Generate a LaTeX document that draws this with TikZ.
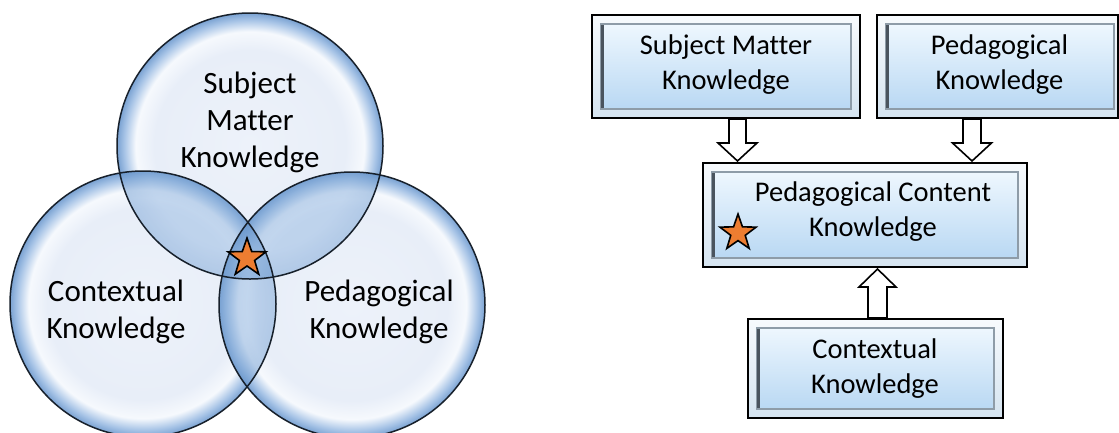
\documentclass[tikz,border=0pt]{standalone}
\usepackage{fontspec}
\setmainfont[Ligatures=NoCommon]{Carlito}
\usetikzlibrary{shapes.geometric,calc}
\definecolor{bin}{HTML}{EDF2FA}
\definecolor{bmid}{HTML}{E8EEF8}
\definecolor{bhigh}{HTML}{F6F9FD}
\definecolor{bedge}{HTML}{A6C3E6}
\definecolor{bdark}{HTML}{7AA2D2}
\definecolor{lin}{HTML}{9DBEE4}
\definecolor{lout}{HTML}{5F8FC8}
\definecolor{starorange}{HTML}{ED7D31}
\definecolor{innertop}{HTML}{EEF7FE}
\definecolor{innerbot}{HTML}{B9D8F3}
\definecolor{outertop}{HTML}{F7FAFD}
\definecolor{outerbot}{HTML}{D5E4F0}
\definecolor{bevel}{HTML}{8E9CA8}
\definecolor{beveldark}{HTML}{4A545E}
\definecolor{ringline}{HTML}{17202B}
\pgfdeclareradialshading{bubble}{\pgfpoint{0bp}{0bp}}{color(0bp)=(bin); color(18bp)=(bmid); color(21.5bp)=(bhigh); color(23.7bp)=(bedge); color(25bp)=(bdark); color(50bp)=(bdark)}
\pgfdeclareradialshading{lensshade}{\pgfpoint{0bp}{0bp}}{color(0bp)=(lin); color(20bp)=(lin); color(25bp)=(lout); color(50bp)=(lout)}
\tikzset{
  bubblecircle/.style={circle, minimum size=266, inner sep=0, shading=bubble},
  bubbleline/.style={draw=ringline, line width=1.5},
  lensfill/.style={shading=lensshade, fill opacity=0.33},
  bubbletext/.style={font=\fontsize{31}{37}\selectfont, align=center, text=black},
  starnode/.style={star, star points=5, star point ratio=2.5, minimum size=40, inner sep=0, fill=starorange, draw=black, line width=1.6},
  outerbox/.style={rectangle, draw=black, line width=2, top color=outertop, bottom color=outerbot, inner sep=0},
  boxtext/.style={font=\fontsize{28.5}{35}\selectfont, align=center, text=black},
  blockarr/.style={draw=black, line width=1.6, fill=white, line join=miter}
}
\newcommand{\innerbevel}[3]{% node, left inset, right inset
  \shade[top color=innertop, bottom color=innerbot]
    ($(#1.north west)+(#2,10)$) rectangle ($(#1.south east)+(-#3,-10)$);
  \draw[bevel, line width=1.2]
    ($(#1.north west)+(#2,10)$) rectangle ($(#1.south east)+(-#3,-10)$);
  \draw[beveldark, line width=3]
    ($(#1.north west)+(#2+1,11)$) -- ($(#1.south west)+(#2+1,-11)$);
}
\newcommand{\lens}[2]{% shade circle #1 inside circle #2
  \begin{scope}
    \clip (#2) circle[radius=133];
    \shade[lensfill] (#1) circle[radius=133];
  \end{scope}
}
\begin{document}
\begin{tikzpicture}[x=1pt,y=-1pt]
\useasboundingbox[fill=white] (0,0) rectangle (1119,432);
% ---------- Venn diagram ----------
\node[bubblecircle] (ctop) at (250,146) {};
\node[bubblecircle] (cleft) at (143,304) {};
\node[bubblecircle] (cright) at (352,305) {};
\lens{ctop}{cleft}
\lens{cleft}{ctop}
\lens{ctop}{cright}
\lens{cright}{ctop}
\lens{cleft}{cright}
\lens{cright}{cleft}
\draw[bubbleline] (ctop) circle[radius=133];
\draw[bubbleline] (cleft) circle[radius=133];
\draw[bubbleline] (cright) circle[radius=133];
\node[bubbletext] (tsmk) at (250,122) {Subject\\Matter\\Knowledge};
\node[bubbletext] (tck) at (116,312) {Contextual\\Knowledge};
\node[bubbletext] (tpk) at (379,312) {Pedagogical\\Knowledge};
\node[starnode] (star1) at (247,258) {};
% ---------- Box diagram ----------
\node[outerbox, minimum width=268, minimum height=103] (b1) at (726,66.5) {};
\node[outerbox, minimum width=241, minimum height=103] (b2) at (997.5,66.5) {};
\node[outerbox, minimum width=324, minimum height=104] (b3) at (865,215) {};
\node[outerbox, minimum width=255, minimum height=99] (b4) at (875.5,368.5) {};
\innerbevel{b1}{10}{10}
\innerbevel{b2}{10}{5}
\innerbevel{b3}{10}{10}
\innerbevel{b4}{10}{10}
\node[boxtext] (t1) at (726,65) {Subject Matter\\Knowledge};
\node[boxtext] (t2) at (999.5,65) {Pedagogical\\Knowledge};
\node[boxtext] (t3) at (873,212) {Pedagogical Content\\Knowledge};
\node[boxtext] (t4) at (875,369) {Contextual\\Knowledge};
\node[starnode, minimum size=38] (star2) at (738,233) {};
% arrows
\draw[blockarr] let \p1=($(b1.south)+(11.5,0)$), \p2=(b3.north) in
  (\x1-8.5pt,\y1) -- (\x1-8.5pt,\y2+19pt) -- (\x1-19.5pt,\y2+19pt) -- (\x1,\y2+1pt)
  -- (\x1+19.5pt,\y2+19pt) -- (\x1+8.5pt,\y2+19pt) -- (\x1+8.5pt,\y1) -- cycle;
\draw[blockarr] let \p1=($(b2.south)+(-25.5,0)$), \p2=(b3.north) in
  (\x1-9pt,\y1) -- (\x1-9pt,\y2+19pt) -- (\x1-19.5pt,\y2+19pt) -- (\x1,\y2+1pt)
  -- (\x1+19.5pt,\y2+19pt) -- (\x1+9pt,\y2+19pt) -- (\x1+9pt,\y1) -- cycle;
\draw[blockarr] let \p1=($(b4.north)+(2,0)$), \p2=(b3.south) in
  (\x1-9.5pt,\y1) -- (\x1-9.5pt,\y2-19pt) -- (\x1-18.5pt,\y2-19pt) -- (\x1,\y2-1pt)
  -- (\x1+18.5pt,\y2-19pt) -- (\x1+9.5pt,\y2-19pt) -- (\x1+9.5pt,\y1) -- cycle;
\end{tikzpicture}
\end{document}
